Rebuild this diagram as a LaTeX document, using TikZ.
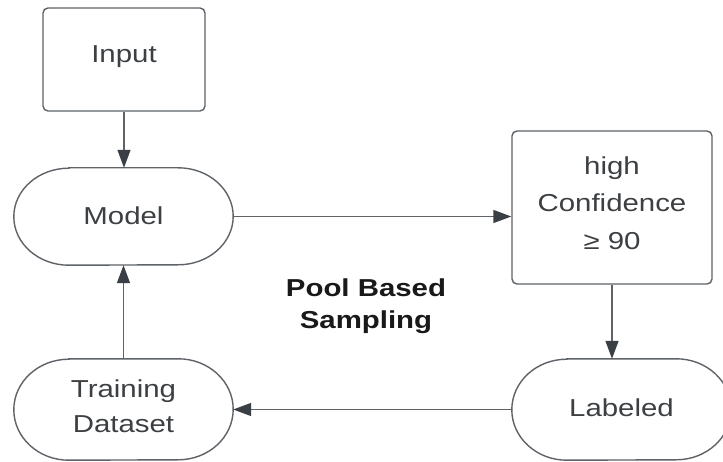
\documentclass[tikz,border=0pt]{standalone}
\usepackage{fontspec}
\setmainfont{Liberation Sans}[FakeStretch=1.2]
\usetikzlibrary{arrows.meta,calc}
\definecolor{edgegray}{HTML}{5F6368}
\definecolor{ink}{HTML}{3C4043}
\definecolor{tipgray}{HTML}{3A3F45}

% outline of a terminator (stadium) shape around an undrawn node
\newcommand\stadiumoutline[1]{%
  \draw[outline] ($(#1.north west)+(55pt,0)$) -- ($(#1.north east)+(-55pt,0)$)
    arc[start angle=90,end angle=-90,x radius=55pt,y radius=\stadiumry]
    -- ($(#1.south west)+(55pt,0)$)
    arc[start angle=270,end angle=90,x radius=55pt,y radius=\stadiumry]
    -- cycle;}

\begin{document}
\begin{tikzpicture}[x=1pt,y=1pt,
  txt/.style={font=\fontsize{24.5}{35}\selectfont, text=ink, align=center},
  outline/.style={draw=edgegray, line width=1.4pt},
  boxnode/.style={outline, rounded corners=5pt, inner sep=0pt},
  termnode/.style={draw=none, inner sep=0pt, minimum width=219pt},
  flow/.style={draw=edgegray, line width=1.4pt,
    -{Triangle[length=18pt,width=13pt,color=tipgray]}},
]
\clip (0,0) rectangle (723,-462);
\fill[white] (0,0) rectangle (723,-462);

% shapes
\node[boxnode, minimum width=162pt, minimum height=103pt] (input) at (124,-59.5) {};
\node[termnode, minimum height=97pt] (model) at (123.5,-216.5) {};
\node[boxnode, minimum width=200pt, minimum height=153pt] (conf) at (612,-207.5) {};
\node[termnode, minimum height=101pt] (labeled) at (621.5,-409.5) {};
\node[termnode, minimum height=101pt] (train) at (123.5,-409.5) {};

% labels
\node[txt] (inputtext) at (124,-57) {Input};
\node[txt] (modeltext) at (123.5,-216) {Model};
\node[txt, font=\fontsize{24.5}{37.5}\selectfont] (conftext) at (612,-203) {high\\Confidence\\≥ 90};
\node[txt] (labeledtext) at (621.5,-408) {Labeled};
\node[txt] (traintext) at (123.5,-406) {Training\\Dataset};
\node[font=\fontsize{24.5}{32}\selectfont\bfseries, text=black!90, align=center]
  (pool) at (366,-306.5) {Pool Based\\Sampling};

\def\stadiumry{48.5pt}
\stadiumoutline{model}
\def\stadiumry{50.5pt}
\stadiumoutline{labeled}
\stadiumoutline{train}

% connectors
\draw[flow] (input.south) -- (input.south |- model.north);
\draw[flow] (model.east) -- (model.east -| conf.west);
\draw[flow] (conf.south) -- (conf.south |- labeled.north);
\draw[flow] (labeled.west) -- (train.east);
\draw[flow] (train.north) -- (train.north |- model.south);
\end{tikzpicture}
\end{document}
